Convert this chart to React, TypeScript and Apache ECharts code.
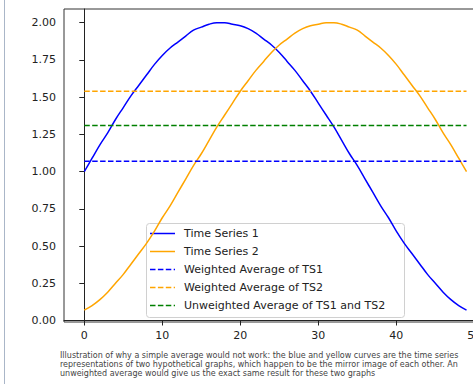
import React, { useEffect, useRef } from "react";
import * as echarts from "echarts";

const xValues: number[] = Array.from({ length: 50 }, (_, i) => i);
const timeSeries1: number[] = [
  1.0, 1.09, 1.18, 1.26, 1.35, 1.43, 1.51, 1.58, 1.65, 1.72,
  1.78, 1.83, 1.87, 1.91, 1.95, 1.97, 1.99, 2.0, 2.0, 1.99,
  1.98, 1.96, 1.93, 1.89, 1.85, 1.8, 1.74, 1.68, 1.61, 1.54,
  1.46, 1.38, 1.3, 1.21, 1.12, 1.04, 0.95, 0.86, 0.77, 0.69,
  0.6, 0.52, 0.45, 0.38, 0.31, 0.25, 0.19, 0.14, 0.1, 0.07,
];
const timeSeries2: number[] = [
  0.07, 0.1, 0.14, 0.19, 0.25, 0.31, 0.38, 0.45, 0.52, 0.6,
  0.69, 0.77, 0.86, 0.95, 1.04, 1.12, 1.21, 1.3, 1.38, 1.46,
  1.54, 1.61, 1.68, 1.74, 1.8, 1.85, 1.89, 1.93, 1.96, 1.98,
  1.99, 2.0, 2.0, 1.99, 1.97, 1.95, 1.91, 1.87, 1.83, 1.78,
  1.72, 1.65, 1.58, 1.51, 1.43, 1.35, 1.26, 1.18, 1.09, 1.0,
];
const weightedAvgTS1 = 1.07;
const weightedAvgTS2 = 1.54;
const unweightedAvg = 1.31;
const xTicks: number[] = [0, 10, 20, 30, 40, 50];
const yTicks: number[] = [0, 0.25, 0.5, 0.75, 1.0, 1.25, 1.5, 1.75, 2.0];
const legendNames: string[] = [
  "Time Series 1",
  "Time Series 2",
  "Weighted Average of TS1",
  "Weighted Average of TS2",
  "Unweighted Average of TS1 and TS2",
];
const captionLines: string[] = [
  "Illustration of why a simple average would not work: the blue and yellow curves are the time series",
  "representations of two hypothetical graphs, which happen to be the mirror image of each other. An",
  "unweighted average would give us the exact same result for these two graphs",
];

const BLUE = "#0000ff";
const ORANGE = "#ffa500";
const GREEN = "#008000";
const DASH = [5.5, 2.4];
const CHART_W = 500;

export default function App() {
  const ref = useRef<HTMLDivElement>(null);
  useEffect(() => {
    if (!ref.current) return;
    const chart = echarts.init(ref.current, undefined, { renderer: "svg" });
    const first = xValues[0];
    const last = xValues[xValues.length - 1];
    const hLine = (v: number) => [
      [first, v],
      [last, v],
    ];
    const legendStyles = [
      { color: BLUE, dash: null as any },
      { color: ORANGE, dash: null as any },
      { color: BLUE, dash: DASH },
      { color: ORANGE, dash: DASH },
      { color: GREEN, dash: DASH },
    ];
    const lx = 146, ly = 223, rowH = 18;
    const legendChildren: any[] = [
      {
        type: "rect",
        shape: { x: lx + 0.5, y: ly + 0.5, width: 258, height: 94, r: 3 },
        style: { fill: "rgba(255,255,255,0.8)", stroke: "#d0d0d0", lineWidth: 1 },
      },
    ];
    legendNames.forEach((name, i) => {
      const cy = ly + 10.5 + i * rowH;
      legendChildren.push({
        type: "line",
        shape: { x1: 150, y1: cy, x2: 175, y2: cy },
        style: { stroke: legendStyles[i].color, lineWidth: 1.5, lineDash: legendStyles[i].dash },
      });
      legendChildren.push({
        type: "text",
        x: 184,
        y: cy,
        style: {
          text: name,
          fill: "#222",
          font: "11px 'DejaVu Sans'",
          textVerticalAlign: "middle",
          verticalAlign: "middle",
        },
      });
    });
    const captionEls = captionLines.map((t, i) => ({
      type: "text",
      x: 60,
      y: 355 + i * 9.4,
      z: 100,
      style: {
        text: t,
        fill: "#444",
        font: "8px 'DejaVu Sans'",
        verticalAlign: "middle",
        textVerticalAlign: "middle",
      },
    }));
    const lineSeries = (name: string, data: any, color: string, dash: any, z: number, smooth: any) => ({
      name,
      type: "line",
      data,
      showSymbol: false,
      symbol: "none",
      smooth,
      z,
      lineStyle: { color, width: 1.5, type: dash ? DASH : "solid" },
      itemStyle: { color },
    });
    chart.setOption({
      animation: false,
      backgroundColor: "#fff",
      grid: {
        left: 64,
        top: 9,
        right: CHART_W - 486.8,
        bottom: 62,
        show: true,
        borderColor: "#333",
        borderWidth: 1,
        backgroundColor: "#fff",
      },
      xAxis: {
        type: "value",
        min: -2.6,
        max: 51.6,
        axisLine: { show: true, lineStyle: { color: "#222", width: 1 } },
        axisTick: { show: true, length: 5, lineStyle: { color: "#222" }, customValues: xTicks },
        axisLabel: {
          color: "#222",
          fontSize: 11,
          fontFamily: "DejaVu Sans",
          margin: 8,
          customValues: xTicks,
          formatter: (v: number) => String(v),
        },
        splitLine: { show: false },
      },
      yAxis: {
        type: "value",
        min: -0.01,
        max: 2.092,
        axisLine: { show: true, lineStyle: { color: "#222", width: 1 } },
        axisTick: { show: true, length: 5, lineStyle: { color: "#222" }, customValues: yTicks },
        axisLabel: {
          color: "#222",
          fontSize: 11,
          fontFamily: "DejaVu Sans",
          margin: 8,
          customValues: yTicks,
          formatter: (v: number) => v.toFixed(2),
        },
        splitLine: { show: false },
      },
      series: [
        lineSeries(legendNames[0], xValues.map((x, i) => [x, timeSeries1[i]]), BLUE, null, 2, 0.4),
        lineSeries(legendNames[1], xValues.map((x, i) => [x, timeSeries2[i]]), ORANGE, null, 2, 0.4),
        lineSeries(legendNames[2], hLine(weightedAvgTS1), BLUE, DASH, 3, false),
        lineSeries(legendNames[3], hLine(weightedAvgTS2), ORANGE, DASH, 3, false),
        lineSeries(legendNames[4], hLine(unweightedAvg), GREEN, DASH, 3, false),
      ],
      graphic: [
        {
          type: "line",
          shape: { x1: 4.5, y1: 0, x2: 4.5, y2: 384 },
          style: { stroke: "#aab6c8", lineWidth: 1 },
          z: 100,
        },
        { type: "group", z: 100, children: legendChildren },
        ...captionEls,
      ],
    });
    return () => chart.dispose();
  }, []);
  return (
    <div style={{ position: "fixed", left: 0, top: 0, width: 473, height: 384, overflow: "hidden" }}>
      <div ref={ref} style={{ width: CHART_W, height: 384 }} />
    </div>
  );
}
